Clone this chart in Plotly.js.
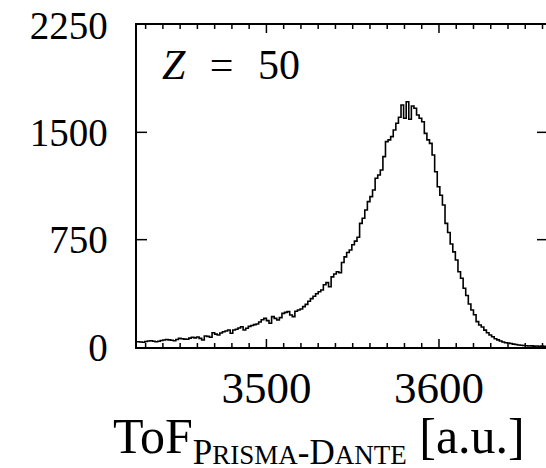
<!DOCTYPE html>
<html>
<head>
<meta charset="utf-8">
<script src="https://cdn.plot.ly/plotly-3.0.1.min.js"></script>
<style>
  html, body { margin: 0; padding: 0; overflow: hidden; background: #ffffff; }
  #chart { width: 560px; height: 468px; }
</style>
</head>
<body>
<div id="chart"></div>
<script>
// ---- data ----
const binStart = 3425;      // left edge of first bin [a.u.]
const binWidth = 1.5;       // bin width [a.u.]
const counts = [
  37, 35, 33, 38, 42, 44, 40, 37, 40, 45,
  49, 52, 50, 47, 44, 52, 60, 58, 55, 54,
  62, 68, 64, 70, 60, 49, 77, 74, 68, 100,
  90, 84, 98, 107, 112, 119, 96, 119, 124, 133,
  142, 119, 131, 144, 150, 156, 161, 175, 190, 200,
  184, 166, 212, 200, 189, 205, 235, 242, 247, 224,
  212, 250, 259, 266, 282, 298, 320, 338, 355, 372,
  386, 398, 435, 450, 421, 490, 510, 526, 519, 590,
  630, 660, 678, 715, 740, 767, 864, 900, 957, 1016,
  1051, 1097, 1179, 1202, 1237, 1330, 1435, 1447, 1470, 1516,
  1563, 1605, 1691, 1598, 1714, 1591, 1684, 1668, 1621, 1598,
  1574, 1493, 1447, 1423, 1342, 1225, 1120, 1060, 992, 864,
  800, 720, 665, 608, 526, 480, 410, 360, 300, 259,
  225, 177, 154, 140, 118, 100, 84, 72, 58, 50,
  42, 35, 30, 28, 24, 20, 17, 14, 12, 10,
  9, 7, 8, 6, 7, 5, 6, 5
];
const xRange = [3425, 3662.6];
const yRange = [0, 2250];
const xTickVals = [3500, 3600];
const xTickText = ['3500', '3600'];
const xMinorStep = 10;
const yTickVals = [0, 750, 1500, 2250];
const yTickText = ['0', '750', '1500', '2250'];
const panelLabel = '<i>Z</i>\u2002\u200A=\u2002\u200A50';
const xTitle = 'ToF<sub>P<span style="font-size:27px">RISMA</span>-D<span style="font-size:27px">ANTE</span></sub> [a.u.]';

// ---- build step histogram from bins ----
const edges = [];
const stepY = [];
for (let i = 0; i < counts.length; i++) {
  edges.push(binStart + i * binWidth);
  stepY.push(counts[i]);
}
edges.push(binStart + counts.length * binWidth);
stepY.push(counts[counts.length - 1]);

const serif = 'Liberation Serif, DejaVu Serif, serif';

const W = 560, H = 468;
const M = { l: 137, r: 13, t: 25, b: 121 };
const plotW = W - M.l - M.r;
const plotH = H - M.t - M.b;

const trace = {
  type: 'scatter',
  mode: 'lines',
  x: edges,
  y: stepY,
  line: { shape: 'hv', color: '#000000', width: 1.6 }
};

// ---- inward tick marks (paper-anchored lines; tick lengths in px converted to paper units) ----
const tickLine = { color: '#000000', width: 1.5 };
const shapes = [];
const xFrac = v => (v - xRange[0]) / (xRange[1] - xRange[0]);
const yFrac = v => (v - yRange[0]) / (yRange[1] - yRange[0]);
function xTick(v, lenPx) {
  const f = lenPx / plotH, p = xFrac(v);
  shapes.push({ type: 'line', xref: 'paper', yref: 'paper', x0: p, x1: p, y0: 0, y1: f, line: tickLine });
  shapes.push({ type: 'line', xref: 'paper', yref: 'paper', x0: p, x1: p, y0: 1, y1: 1 - f, line: tickLine });
}
function yTick(v, lenPx) {
  const f = lenPx / plotW, p = yFrac(v);
  shapes.push({ type: 'line', xref: 'paper', yref: 'paper', x0: 0, x1: f, y0: p, y1: p, line: tickLine });
  shapes.push({ type: 'line', xref: 'paper', yref: 'paper', x0: 1, x1: 1 - f, y0: p, y1: p, line: tickLine });
}
const firstMinor = Math.ceil(xRange[0] / xMinorStep) * xMinorStep;
for (let v = firstMinor; v < xRange[1]; v += xMinorStep) {
  if (xTickVals.indexOf(v) === -1) xTick(v, 4);
}
xTickVals.forEach(v => xTick(v, 8));
yTickVals.filter(v => v > yRange[0] && v < yRange[1]).forEach(v => yTick(v, 10));

const layout = {
  width: W,
  height: H,
  margin: M,
  showlegend: false,
  font: { family: serif, color: '#000000' },
  xaxis: {
    range: xRange,
    tickmode: 'array',
    tickvals: xTickVals,
    ticktext: xTickText,
    ticks: '',
    showline: true,
    linecolor: '#000000',
    linewidth: 2,
    mirror: true,
    showgrid: false,
    zeroline: false,
    tickfont: { family: serif, size: 45, color: '#000000' }
  },
  yaxis: {
    range: yRange,
    tickmode: 'array',
    tickvals: yTickVals,
    ticktext: yTickText.map(t => t + '\u2002'),
    ticks: '',
    showline: true,
    linecolor: '#000000',
    linewidth: 2,
    mirror: true,
    showgrid: false,
    zeroline: false,
    tickfont: { family: serif, size: 39, color: '#000000' }
  },
  shapes: shapes,
  annotations: [
    {
      text: panelLabel,
      xref: 'paper', yref: 'paper',
      x: 0.057, y: 0.875,
      xanchor: 'left', yanchor: 'middle',
      showarrow: false,
      font: { family: serif, size: 42, color: '#000000' }
    },
    {
      text: xTitle,
      xref: 'paper', yref: 'paper',
      x: 0.443, y: -0.29,
      xanchor: 'center', yanchor: 'middle',
      showarrow: false,
      font: { family: serif, size: 50, color: '#000000' }
    }
  ]
};

Plotly.newPlot('chart', [trace], layout, { staticPlot: true, displayModeBar: false });
</script>
</body>
</html>
